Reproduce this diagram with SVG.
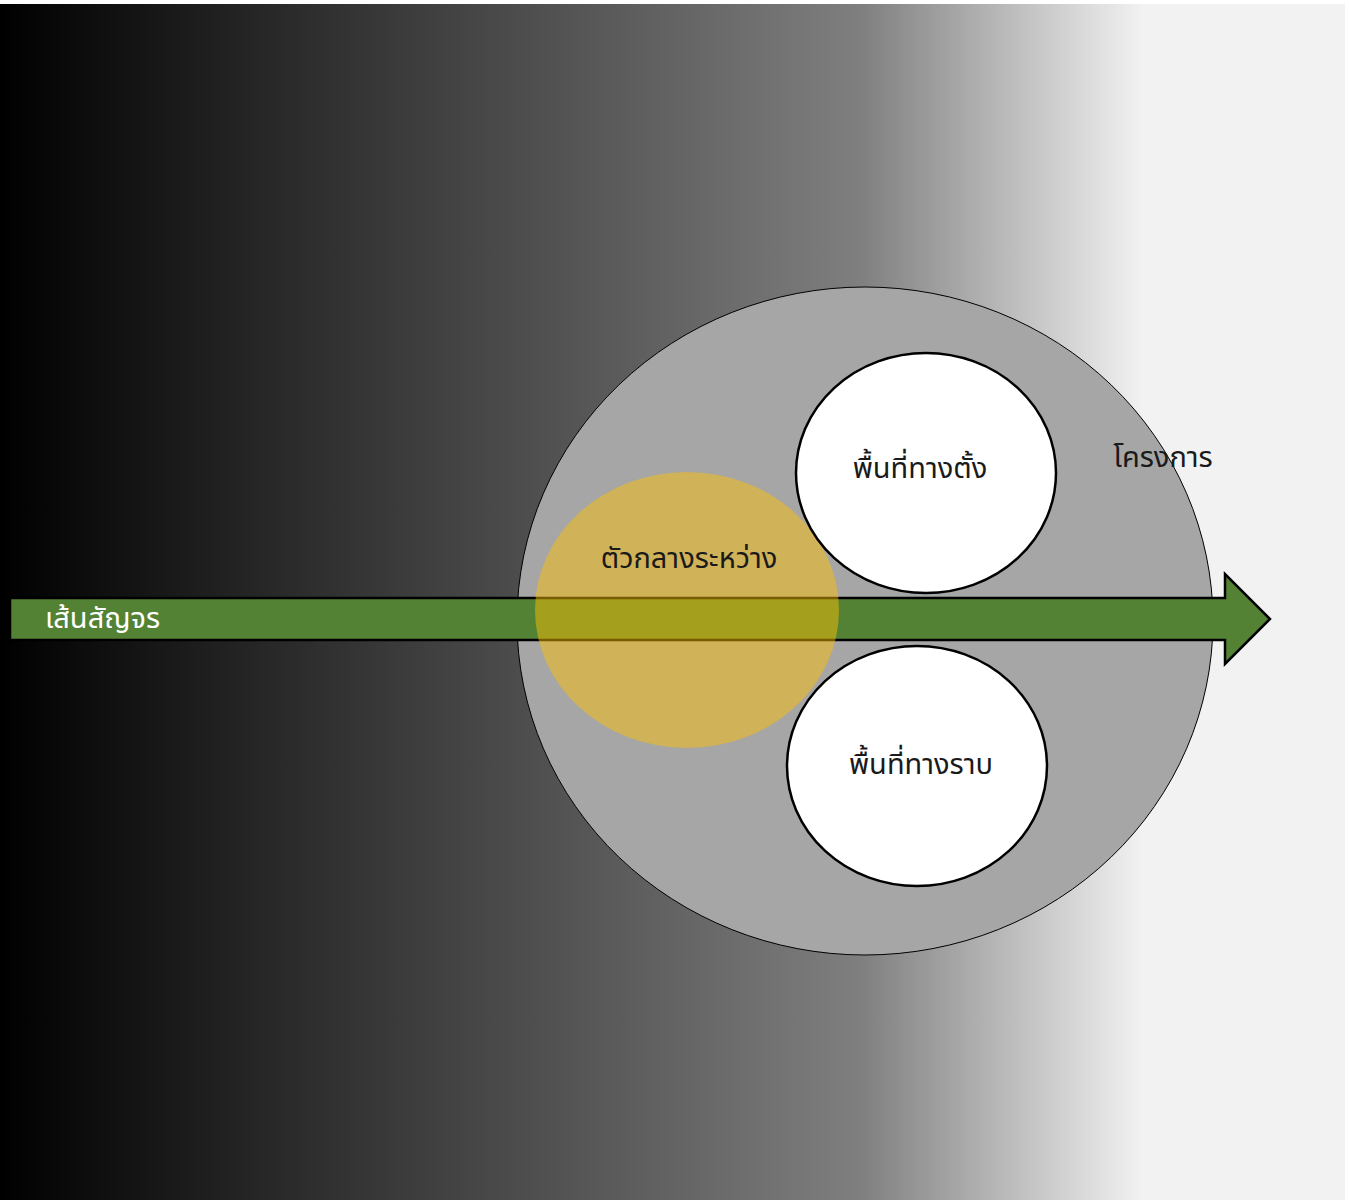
<svg xmlns="http://www.w3.org/2000/svg" width="1349" height="1200" viewBox="0 0 1349 1200">
  <defs>
    <linearGradient id="bg" x1="0" y1="0" x2="1" y2="0">
      <stop offset="0" stop-color="#000000"/>
      <stop offset="0.64" stop-color="#7f7f7f"/>
      <stop offset="0.85" stop-color="#f2f2f2"/>
      <stop offset="1" stop-color="#f2f2f2"/>
    </linearGradient>
    <style>
      .lbl { font-family: "Noto Sans Thai", "Leelawadee UI", "Noto Sans", "DejaVu Sans", sans-serif; font-size: 29px; }
      .dark { fill: #1a1a1a; }
      .light { fill: #ffffff; }
      .area { fill: #ffffff; stroke: #000000; stroke-width: 2.5; }
    </style>
  </defs>

  <!-- page and background band -->
  <rect x="0" y="0" width="1349" height="1200" fill="#ffffff"/>
  <rect x="0" y="4" width="1345" height="1196" fill="url(#bg)"/>

  <!-- project boundary -->
  <g id="project">
    <ellipse cx="865" cy="621" rx="348" ry="334" fill="#a6a6a6" stroke="#000000" stroke-width="1"/>
    <text class="lbl dark" x="1163" y="467" text-anchor="middle">โครงการ</text>
  </g>

  <!-- circulation path -->
  <g id="connectors">
    <path id="route" d="M10,598 H1225 V574 L1270,619 L1225,664 V640 H10 Z" fill="#548235" stroke="#000000" stroke-width="2.5" stroke-linejoin="miter"/>
    <text class="lbl light" x="45" y="628">เส้นสัญจร</text>
  </g>

  <!-- intermediary zone -->
  <g id="intermediary">
    <ellipse cx="687" cy="610" rx="152" ry="138" fill="#ffc000" fill-opacity="0.47"/>
    <text class="lbl dark" x="689" y="568" text-anchor="middle">ตัวกลางระหว่าง</text>
  </g>

  <!-- vertical area -->
  <g id="vertical-area">
    <ellipse class="area" cx="926" cy="473" rx="130" ry="120"/>
    <text class="lbl dark" x="920" y="478" text-anchor="middle">พื้นที่ทางตั้ง</text>
  </g>

  <!-- horizontal area -->
  <g id="horizontal-area">
    <ellipse class="area" cx="917" cy="766" rx="130" ry="120"/>
    <text class="lbl dark" x="921" y="774" text-anchor="middle">พื้นที่ทางราบ</text>
  </g>
</svg>
